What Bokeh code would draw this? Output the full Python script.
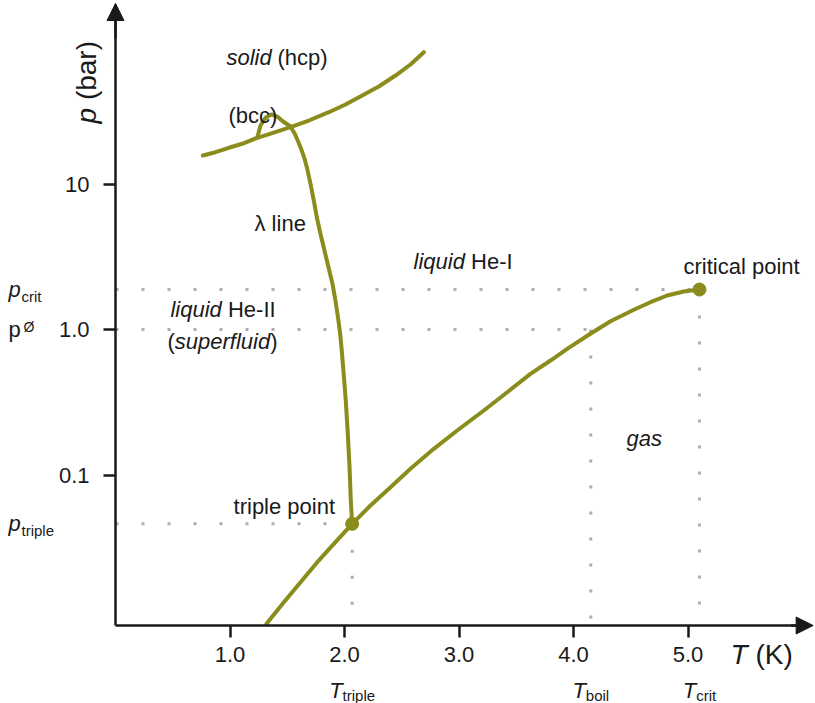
from math import pi

from bokeh.embed import file_html
from bokeh.models import (Arrow, FixedTicker, Label, LinearAxis, LogAxis, NormalHead,
                          NumeralTickFormatter, Range1d)
from bokeh.plotting import figure
from bokeh.resources import INLINE

# Helium-4 phase boundaries (T in K, p in bar)
melt_T = [0.7625, 0.8734, 0.9895, 1.1066, 1.2376, 1.3686, 1.5284, 1.6885, 1.8629,
          2.0087, 2.1546, 2.2996, 2.4454, 2.5764, 2.6926]
melt_p = [15.70, 16.54, 17.74, 18.90, 20.78, 22.35, 24.57, 27.32, 31.16,
          35.19, 40.57, 46.78, 55.68, 66.27, 80.52]

lambda_T = [1.2376, 1.2664, 1.310, 1.362, 1.412, 1.461, 1.528, 1.566, 1.598, 1.627,
            1.651, 1.671, 1.703, 1.732, 1.758, 1.790, 1.825, 1.860, 1.895, 1.921,
            1.943, 1.962, 1.976, 1.988, 2.011, 2.029, 2.044, 2.055, 2.067]
lambda_p = [20.78, 25.24, 28.5, 30.05, 29.1, 27.0, 24.84, 22.13, 19.38, 16.99,
            14.90, 13.05, 10.03, 7.70, 5.91, 4.55, 3.49, 2.68, 2.06, 1.582,
            1.215, 0.934, 0.717, 0.551, 0.325, 0.192, 0.113, 0.0668, 0.0462]

vapour_T = [1.319, 1.470, 1.616, 1.762, 1.907, 2.067, 2.227, 2.402, 2.576, 2.780,
            2.984, 3.217, 3.421, 3.624, 3.799, 3.945, 4.151, 4.323, 4.527, 4.672,
            4.818, 4.963, 5.100]
vapour_p = [0.00949, 0.01336, 0.01833, 0.02516, 0.03366, 0.0462, 0.06173, 0.08242,
            0.1103, 0.1514, 0.2022, 0.2776, 0.3707, 0.4960, 0.6120, 0.7367, 0.939,
            1.140, 1.366, 1.540, 1.713, 1.824, 1.883]

# Characteristic points
T_triple, p_triple = 2.067, 0.0462
T_crit, p_crit = 5.100, 1.883
T_boil, p_std = 4.151, 1.0

x_ticks = [1, 2, 3, 4, 5]
y_ticks = [0.1, 1, 10]
y_tick_labels = {0.1: "0.1", 1: "1.0", 10: "10"}

# Visible window and where the axes cross
X_LO, X_HI = -1.0044, 6.1135
Y_LO, Y_HI = 0.002689, 182.5
T_AXIS, P_AXIS = 0.0, 0.009238

OLIVE = "#8a8c1c"
DOTS = "#adadad"
INK = "#1a1a1a"
FONT = "Liberation Sans"

p = figure(width=815, height=703, output_backend="svg", toolbar_location=None,
           x_range=Range1d(X_LO, X_HI), y_range=Range1d(Y_LO, Y_HI),
           y_axis_type="log", x_axis_location=None, y_axis_location=None,
           min_border=0)
p.outline_line_color = None
p.background_fill_color = "white"
p.border_fill_color = "white"
p.grid.visible = False

xaxis = LinearAxis(fixed_location=P_AXIS, bounds=(T_AXIS, 6.0))
yaxis = LogAxis(fixed_location=T_AXIS, bounds=(P_AXIS, 170))
p.add_layout(xaxis, "below")
p.add_layout(yaxis, "left")

for ax in (xaxis, yaxis):
    ax.axis_line_width = 2.5
    ax.axis_line_color = INK
    ax.major_tick_line_width = 2.5
    ax.major_tick_line_color = INK
    ax.major_tick_in = 0
    ax.major_tick_out = 12
    ax.minor_tick_line_color = None
    ax.major_label_text_font = FONT
    ax.major_label_text_font_size = "22px"
    ax.major_label_text_color = INK

xaxis.ticker = FixedTicker(ticks=x_ticks, minor_ticks=[])
xaxis.formatter = NumeralTickFormatter(format="0.0")
xaxis.major_label_standoff = 9
yaxis.ticker = FixedTicker(ticks=y_ticks, minor_ticks=[])
yaxis.major_label_overrides = y_tick_labels
yaxis.major_label_standoff = 14

# Axis arrow heads
head_style = dict(size=17, fill_color=INK, line_color=INK, line_width=1)
p.add_layout(Arrow(end=NormalHead(**head_style), x_start=T_AXIS, y_start=100, x_end=T_AXIS,
                   y_end=174, line_width=2.5, line_color=INK))
p.add_layout(Arrow(end=NormalHead(**head_style), x_start=5.9, y_start=P_AXIS, x_end=6.093,
                   y_end=P_AXIS, line_width=2.5, line_color=INK))

# Dotted guide lines
dot = dict(line_color=DOTS, line_width=3, line_dash="3 23")
p.segment(x0=[T_AXIS] * 3, y0=[p_crit, p_std, p_triple],
          x1=[T_crit, T_boil, T_triple], y1=[p_crit, p_std, p_triple], **dot)
p.segment(x0=[T_triple, T_boil, T_crit], y0=[p_triple, p_std, p_crit],
          x1=[T_triple, T_boil, T_crit], y1=[P_AXIS] * 3, **dot)

# Phase boundaries
curve = dict(line_color=OLIVE, line_width=4, line_join="round", line_cap="round")
p.line(melt_T, melt_p, **curve)
p.line(lambda_T, lambda_p, **curve)
p.line(vapour_T, vapour_p, **curve)
p.scatter([T_triple, T_crit], [p_triple, p_crit], size=13, color=OLIVE)


def note(x, y, text, size=22, style="normal", x_offset=0, angle=0.0):
    p.add_layout(Label(x=x, y=y, text=text, x_offset=x_offset, angle=angle,
                       text_font=FONT, text_font_size=f"{size}px", text_font_style=style,
                       text_color=INK, text_align="left", text_baseline="middle"))


# Region and point labels
note(0.969, 74.0, "solid", style="italic")
note(0.969, 74.0, "(hcp)", x_offset=51)
note(0.987, 29.6, "(bcc)")
note(1.214, 5.35, "\u03bb line")
note(2.603, 2.934, "liquid", style="italic")
note(2.603, 2.934, "He-I", x_offset=57.5)
note(4.961, 2.71, "critical point")
note(0.480, 1.372, "liquid", style="italic")
note(0.480, 1.372, "He-II", x_offset=57.5)
note(0.454, 0.827, "(")
note(0.454, 0.827, "superfluid", style="italic", x_offset=7.3)
note(0.454, 0.827, ")", x_offset=102.7)
note(4.463, 0.178, "gas", style="italic")
note(1.031, 0.0607, "triple point")

# Axis titles
note(-0.253, 26.05, "p", size=28, style="italic", angle=pi / 2)
note(-0.253, 37.73, "(bar)", size=28, angle=pi / 2)
note(5.371, 0.005838, "T", size=28, style="italic")
note(5.371, 0.005838, "(K)", size=28, x_offset=25)

# Characteristic pressures beside the p axis
note(-0.9345, p_crit, "p", style="italic")
note(-0.9345, 1.686, "crit", size=15, x_offset=13)
note(-0.9345, p_std, "p")
note(-0.9345, 1.040, "\u00d8", size=14, x_offset=15)
note(-0.9345, p_triple, "p", style="italic")
note(-0.9345, 0.04135, "triple", size=15, x_offset=13)

# Characteristic temperatures below the T axis
for T_val, sub, half in ((T_triple, "triple", 23), (T_boil, "boil", 18.4), (T_crit, "crit", 16.7)):
    note(T_val, 0.003303, "T", style="italic", x_offset=-half)
    note(T_val, 0.003051, sub, size=15, x_offset=-half + 13.4)

open("out.html", "w").write(file_html(p, INLINE))
